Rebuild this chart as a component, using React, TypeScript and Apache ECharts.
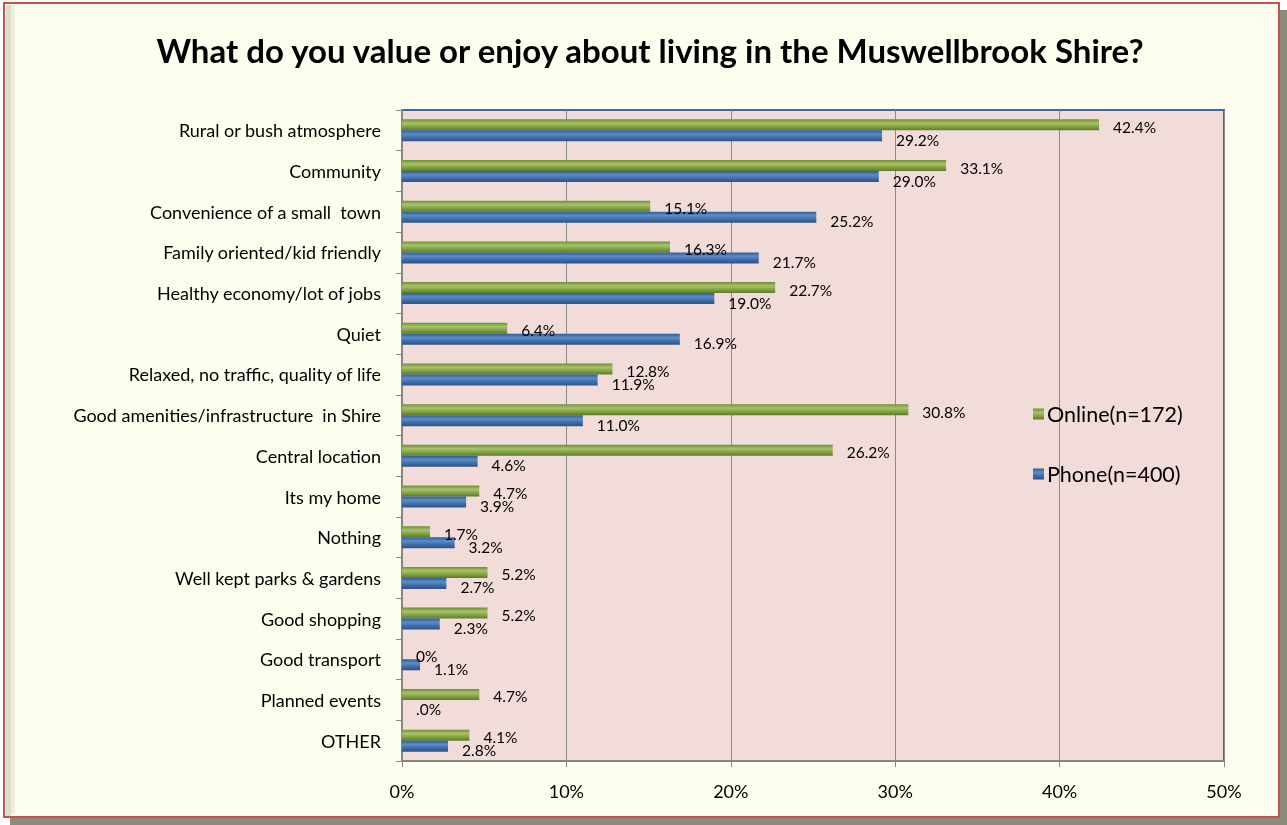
import React, { useEffect, useRef } from "react";
import * as echarts from "echarts";

const categories = [
  "Rural or bush atmosphere",
  "Community",
  "Convenience of a small  town",
  "Family oriented/kid friendly",
  "Healthy economy/lot of jobs",
  "Quiet",
  "Relaxed, no traffic, quality of life",
  "Good amenities/infrastructure  in Shire",
  "Central location",
  "Its my home",
  "Nothing",
  "Well kept parks & gardens",
  "Good shopping",
  "Good transport",
  "Planned events",
  "OTHER",
];
const onlineValues = [42.4, 33.1, 15.1, 16.3, 22.7, 6.4, 12.8, 30.8, 26.2, 4.7, 1.7, 5.2, 5.2, 0, 4.7, 4.1];
const phoneValues = [29.2, 29.0, 25.2, 21.7, 19.0, 16.9, 11.9, 11.0, 4.6, 3.9, 3.2, 2.7, 2.3, 1.1, 0, 2.8];
const onlineName = "Online(n=172)";
const phoneName = "Phone(n=400)";
const xTicks = [0, 10, 20, 30, 40, 50];

const FONT = "Lato, 'Noto Sans', sans-serif";

export default function App() {
  const ref = useRef<HTMLDivElement>(null);
  useEffect(() => {
    if (!ref.current) return;
    const chart = echarts.init(ref.current, null, { renderer: "svg" });
    const greenGrad = new echarts.graphic.LinearGradient(0, 0, 0, 1, [
      { offset: 0, color: "#6f8d35" },
      { offset: 0.35, color: "#a6c36a" },
      { offset: 0.65, color: "#86a546" },
      { offset: 1, color: "#5d7a28" },
    ]);
    const blueGrad = new echarts.graphic.LinearGradient(0, 0, 0, 1, [
      { offset: 0, color: "#2f5b92" },
      { offset: 0.35, color: "#5d8dc8" },
      { offset: 0.65, color: "#3f6faa" },
      { offset: 1, color: "#2c5283" },
    ]);
    chart.setOption({
      animation: false,
      backgroundColor: "transparent",
      textStyle: { fontFamily: FONT },
      title: {
        text: "What do you value or enjoy about living in the Muswellbrook Shire?",
        left: 645,
        textAlign: "center",
        top: 28,
        textStyle: { fontFamily: FONT, fontSize: 33, fontWeight: "bold", color: "#000" },
      },
      graphic: [
        { type: "rect", z: -10, shape: { x: 10, y: 10, width: 1277, height: 815 }, style: { fill: "#8c8c7a" } },
        { type: "rect", z: -9, shape: { x: 4, y: 3, width: 1275, height: 814 }, style: { fill: "#fefeee", stroke: "#c8504f", lineWidth: 2 } },
        { type: "rect", z: -8, shape: { x: 6, y: 5, width: 5, height: 811 }, style: { fill: "#dcdcc4" } },
        { type: "rect", z: -8, shape: { x: 11, y: 5, width: 4, height: 809 }, style: { fill: "#eeeed8" } },
      ],
      legend: {
        orient: "vertical",
        left: 1028,
        top: 398,
        itemGap: 38,
        itemWidth: 11,
        itemHeight: 11,
        icon: "rect",
        data: [onlineName, phoneName],
        textStyle: { fontFamily: FONT, fontSize: 21.5, color: "#000", padding: [0, 0, 0, -2] },
      },
      grid: {
        left: 402,
        top: 110,
        right: 63,
        bottom: 64,
        show: true,
        backgroundColor: "#f1dcda",
        borderColor: "#3a67a6",
        borderWidth: 2,
      },
      xAxis: {
        type: "value",
        min: 0,
        max: 50,
        interval: 10,
        axisLine: { show: true, lineStyle: { color: "#868686", width: 2 } },
        axisTick: { show: true, length: 6, lineStyle: { color: "#868686" } },
        splitLine: { show: true, lineStyle: { color: "#8a8a8a", width: 1 } },
        axisLabel: {
          formatter: (v: number) => (xTicks.includes(v) ? v + "%" : ""),
          fontSize: 18,
          color: "#000",
          margin: 21,
          fontFamily: FONT,
        },
      },
      yAxis: {
        type: "category",
        inverse: true,
        data: categories,
        axisLine: { show: true, lineStyle: { color: "#868686", width: 2 } },
        axisTick: { show: true, length: 6, alignWithLabel: false, lineStyle: { color: "#868686" } },
        axisLabel: { fontSize: 18, color: "#000", margin: 21, fontFamily: FONT },
      },
      series: [
        {
          name: onlineName,
          type: "bar",
          data: onlineValues,
          barWidth: 11,
          barGap: "0%",
          itemStyle: { color: greenGrad },
          label: {
            show: true,
            position: "right",
            distance: 14,
            offset: [0, 2],
            fontSize: 15.5,
            color: "#000",
            fontFamily: FONT,
            formatter: (p: any) => (p.value === 0 ? "0%" : Number(p.value).toFixed(1) + "%"),
          },
        },
        {
          name: phoneName,
          type: "bar",
          data: phoneValues,
          barWidth: 11,
          barGap: "0%",
          itemStyle: { color: blueGrad },
          label: {
            show: true,
            position: "right",
            distance: 14,
            offset: [0, 4],
            fontSize: 15.5,
            color: "#000",
            fontFamily: FONT,
            formatter: (p: any) => (p.value === 0 ? ".0%" : Number(p.value).toFixed(1) + "%"),
          },
        },
      ],
      color: ["#86a546", "#3f6faa"],
    });
    return () => chart.dispose();
  }, []);
  return (
    <div
      ref={ref}
      style={{ position: "fixed", left: 0, top: 0, width: 1287, height: 825 }}
    />
  );
}
